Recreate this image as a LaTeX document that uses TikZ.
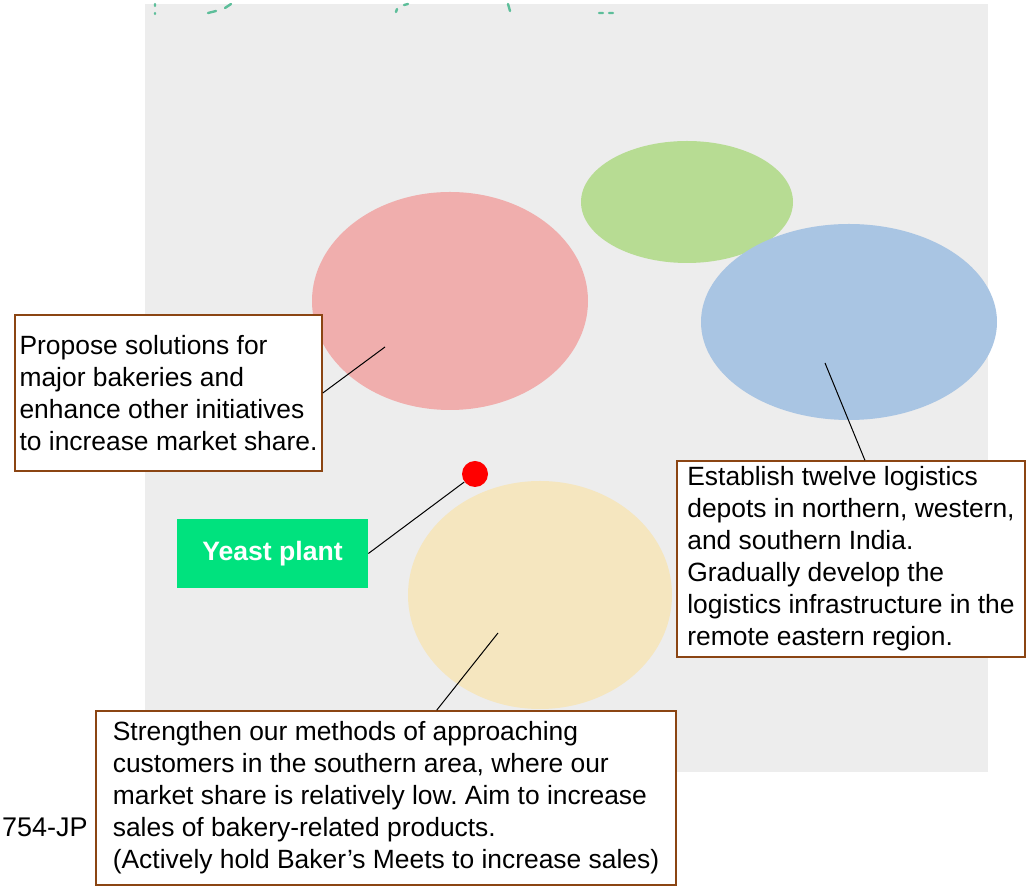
\documentclass[tikz,border=0pt]{standalone}
\usepackage{fontspec}
\setmainfont{Liberation Sans}
\usetikzlibrary{shapes.geometric}
\frenchspacing
\definecolor{panelgray}{HTML}{EDEDED}
\definecolor{zonegreen}{HTML}{B7DC93}
\definecolor{zonered}{HTML}{F0AEAD}
\definecolor{zoneblue}{HTML}{A9C5E3}
\definecolor{zoneyellow}{HTML}{F5E6BF}
\definecolor{plantgreen}{HTML}{00E27E}
\definecolor{notebrown}{HTML}{8B4513}
\definecolor{marksgreen}{HTML}{5DBE9A}
\tikzset{
  zone/.style={ellipse,draw=none,inner sep=0pt},
  notebox/.style={rectangle,draw=notebrown,line width=0.8pt,fill=white,
    align=left,inner sep=0pt,font=\fontsize{13.2}{16}\selectfont},
  link/.style={draw=black,line width=0.5pt}
}
\begin{document}
\begin{tikzpicture}[x=0.5pt,y=-0.5pt]
  \useasboundingbox (0,0) rectangle (1029,886);
  % map panel
  \fill[panelgray] (145,4) rectangle (988,772);
  % cut-off marks along the top edge
  \draw[marksgreen,line width=1.2pt,line cap=round]
    (155,4) -- (155,6) (155,13) -- (155,14)
    (208,13) -- (216,11) (225,8) -- (231,4)
    (396,12) -- (397,9) (404,5) -- (408,4)
    (508,4) -- (510,11) (599,13) -- (603,13) (609,13) -- (613,13);
  % regions
  \node[zone,fill=zonegreen,minimum width=106pt,minimum height=61pt] (north) at (687,202) {};
  \node[zone,fill=zonered,minimum width=138pt,minimum height=109pt] (west) at (450,301) {};
  \node[zone,fill=zoneblue,minimum width=148pt,minimum height=98pt] (east) at (849,322) {};
  \node[zone,fill=zoneyellow,minimum width=132pt,minimum height=114pt] (south) at (540,595) {};
  \coordinate (westpt) at (385,347);
  \coordinate (eastpt) at (825,363);
  \coordinate (southpt) at (498,633);
  % plant marker
  \node[circle,fill=red,inner sep=0pt,minimum size=13pt] (dot) at (475,474) {};
  \node[rectangle,fill=plantgreen,text=white,font=\fontsize{13.3}{15}\selectfont\bfseries,
    minimum width=95.5pt,minimum height=34.5pt,inner sep=0pt] (yeast) at (272.5,553.5) {Yeast plant};
  \draw[link] (yeast.east) -- (dot);
  % notes
  \node[notebox,minimum width=153.5pt,minimum height=78pt] (westnote) at (168.5,393)
    {Propose solutions for\\major bakeries and\\enhance other initiatives\\to increase market share.};
  \node[notebox,minimum width=174pt,minimum height=98pt] (eastnote) at (851,559)
    {Establish twelve logistics\\depots in northern, western,\\and southern India.\\Gradually develop the\\logistics infrastructure in the\\remote eastern region.};
  \node[notebox,minimum width=290pt,minimum height=87pt] (southnote) at (386,798)
    {Strengthen our methods of approaching\\customers in the southern area, where our\\market share is relatively low. Aim to increase\\sales of bakery-related products.\\(Actively hold Baker’s Meets to increase sales)};
  \draw[link] (westnote.east) -- (westpt);
  \draw[link] (eastnote.82) -- (eastpt);
  \draw[link] (southnote.60) -- (southpt);
  % page code, cut at the left edge
  \node[anchor=east,inner sep=0pt,font=\fontsize{13.5}{15}\selectfont] (code) at (88,827) {754-JP};
\end{tikzpicture}
\end{document}
